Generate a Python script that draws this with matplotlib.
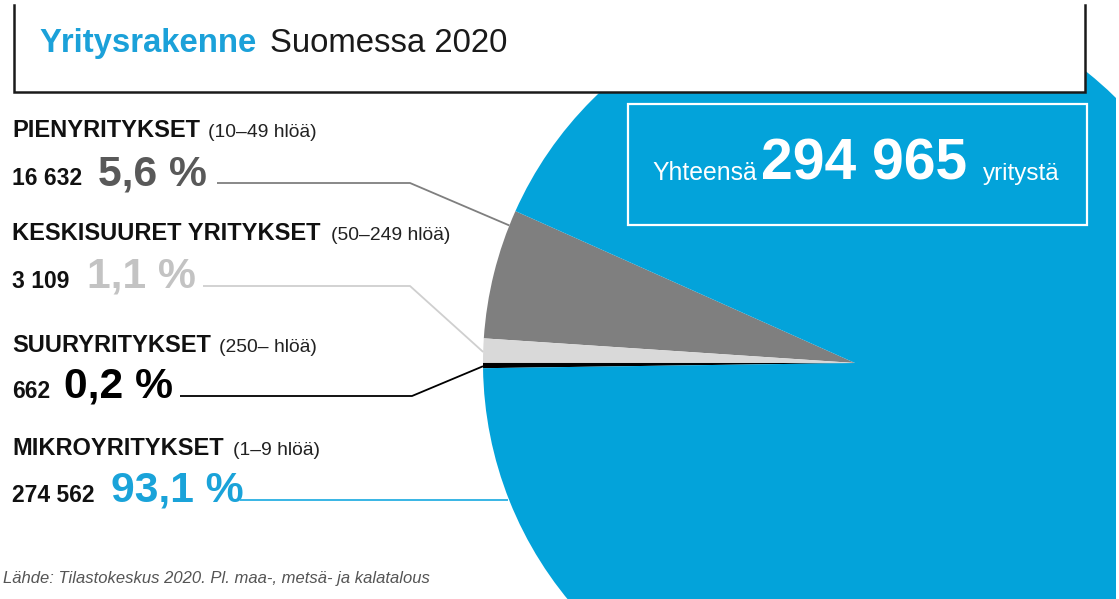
import numpy as np
import matplotlib
matplotlib.use("Agg")
import matplotlib.pyplot as plt
from matplotlib.patches import Rectangle

plt.rcParams["font.family"] = ["Liberation Sans", "DejaVu Sans"]

# --- Data ---
ryhmat = ["PIENYRITYKSET", "KESKISUURET YRITYKSET", "SUURYRITYKSET", "MIKROYRITYKSET"]
koot = ["(10–49 hlöä)", "(50–249 hlöä)", "(250– hlöä)", "(1–9 hlöä)"]
lukumaarat = [16632, 3109, 662, 274562]
osuudet = ["5,6 %", "1,1 %", "0,2 %", "93,1 %"]
lukutekstit = ["16 632", "3 109", "662", "274 562"]
yhteensa = "294 965"

# --- Style / layout (pixels of the 1119x599 picture) ---
W, H = 1119, 599
SININEN = "#03a3da"
piirakka_varit = ["#7f7f7f", "#d9d9d9", "#000000", SININEN]
prosentti_varit = ["#595959", "#c3c3c3", "#000000", "#1aa3d9"]
viiva_varit = ["#7f7f7f", "#cfcfcf", "#000000", "#29b0e3"]
keskipiste = (855, 363)
sade = 372
alkukulma = 155.9

otsikko_y = [137, 240, 352, 455]
koko_x = [208, 331, 219, 233]
luku_y = [185, 288, 398, 502]
prosentti_x = [98, 87, 64, 111]
viiva_alku = [217, 203, 180, 240]
viiva_taite = [410, 410, 412, None]
ankkuri_kulma = [158.3, 178.3, 180.5, 201.1]

fig = plt.figure(figsize=(W / 100, H / 100), dpi=100)
ax = fig.add_axes([0, 0, 1, 1])

# y axis inverted -> angles mirrored, so go clockwise in data coordinates
ax.pie(lukumaarat, colors=piirakka_varit, center=keskipiste, radius=sade,
       startangle=-alkukulma, counterclock=False,
       wedgeprops=dict(linewidth=0))
ax.set_aspect("auto")
ax.set_xlim(0, W)
ax.set_ylim(H, 0)
ax.axis("off")

# title box (white, covers the top of the pie; no top edge visible)
ax.add_patch(Rectangle((14, -20), 1071, 112, facecolor="white",
                       edgecolor="none", zorder=5))
ax.plot([14, 14, 1085, 1085], [5, 92, 92, 5], color="#1a1a1a",
        linewidth=1.8, zorder=6, solid_joinstyle="miter")
ax.text(39, 52, "Yritysrakenne", color="#1ba1d9", fontsize=23.7,
        fontweight="bold", va="baseline", zorder=6)
ax.text(270, 52, "Suomessa 2020", color="#1a1a1a", fontsize=23.7,
        va="baseline", zorder=6)

# strip on the right edge
ax.add_patch(Rectangle((1116, 0), 5, H, facecolor="white", edgecolor="none", zorder=4))

# total box
ax.add_patch(Rectangle((628, 104), 459, 121, facecolor="none",
                       edgecolor="white", linewidth=1.6, zorder=5))
ax.text(652, 180, "Yhteensä", color="white", fontsize=17.8, va="baseline", zorder=6)
ax.text(761, 180, yhteensa, color="white", fontsize=41, fontweight="bold",
        va="baseline", zorder=6)
ax.text(983, 180, "yritystä", color="white", fontsize=17.5, va="baseline", zorder=6)

# labels and leader lines
for i in range(len(ryhmat)):
    ax.text(12, otsikko_y[i], ryhmat[i], fontsize=17, fontweight="bold",
            color="#111111", va="baseline")
    ax.text(koko_x[i], otsikko_y[i], koot[i], fontsize=13.9, color="#222222",
            va="baseline")
    ax.text(12, luku_y[i], lukutekstit[i], fontsize=16.5, fontweight="bold",
            color="#111111", va="baseline")
    ax.text(prosentti_x[i], luku_y[i], osuudet[i], fontsize=30.7,
            fontweight="bold", color=prosentti_varit[i], va="baseline")

    a = np.deg2rad(ankkuri_kulma[i])
    ax_x = keskipiste[0] + sade * np.cos(a)
    ax_y = keskipiste[1] - sade * np.sin(a)
    yv = luku_y[i] - 2
    if viiva_taite[i] is None:
        xs, ys = [viiva_alku[i], ax_x], [yv, yv]
    else:
        xs = [viiva_alku[i], viiva_taite[i], ax_x]
        ys = [yv, yv, ax_y]
    ax.plot(xs, ys, color=viiva_varit[i], linewidth=1.3, zorder=3,
            solid_capstyle="butt")

ax.text(3, 583, "Lähde: Tilastokeskus 2020. Pl. maa-, metsä- ja kalatalous",
        fontsize=12, style="italic", color="#555555", va="baseline")

fig.savefig("out.png", dpi=100)
